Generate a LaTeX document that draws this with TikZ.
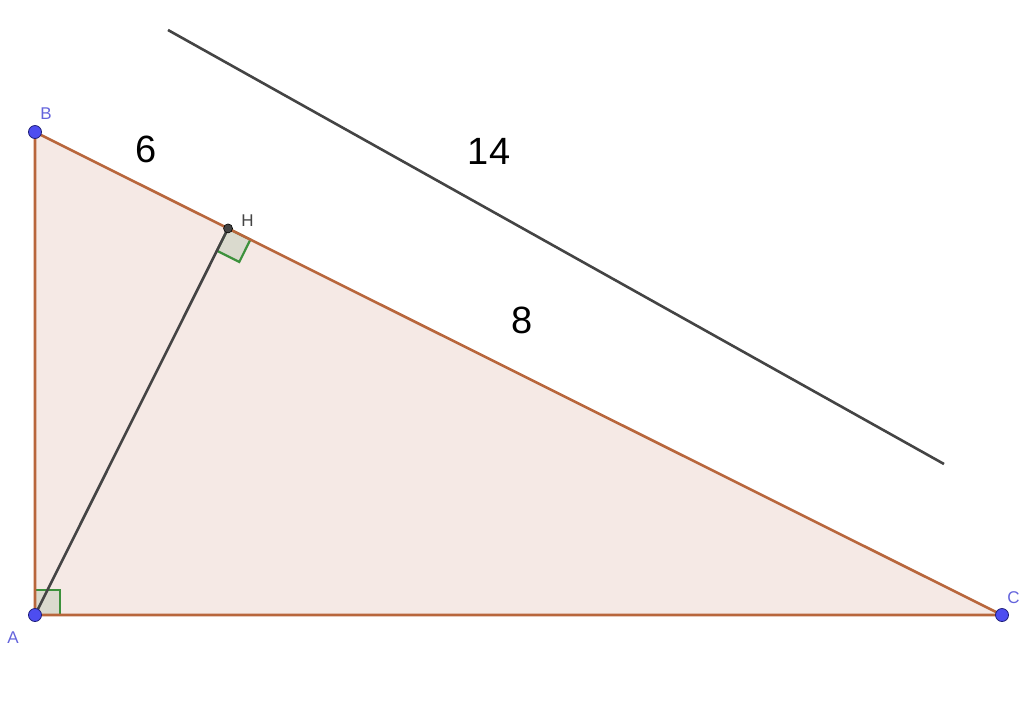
\documentclass[tikz,border=0pt]{standalone}
\usepackage{fontspec}
\setmainfont{Liberation Sans}
\usetikzlibrary{calc}
\definecolor{tri}{RGB}{184,102,60}
\definecolor{trifill}{RGB}{245,233,229}
\definecolor{ptblue}{RGB}{77,77,240}
\definecolor{ptedge}{RGB}{30,30,120}
\definecolor{lbl}{RGB}{100,100,220}
\definecolor{ang}{RGB}{60,145,60}
\definecolor{angfill}{RGB}{218,218,206}
\definecolor{seg}{RGB}{68,68,68}
\tikzset{
  ptstyle/.style={circle,fill=ptblue,draw=ptedge,line width=0.8pt,inner sep=0pt,minimum size=13pt},
  hpt/.style={circle,fill=seg,draw=black,line width=0.6pt,inner sep=0pt,minimum size=9pt},
  ptlabel/.style={text=lbl,font=\fontsize{17}{17}\selectfont,inner sep=0pt},
  hlabel/.style={text=seg,font=\fontsize{17}{17}\selectfont,inner sep=0pt},
  numlabel/.style={text=black,font=\fontsize{38}{38}\selectfont,inner sep=0pt},
  rightang/.style={draw=ang,fill=angfill,line width=2.2pt,line join=miter}
}
\begin{document}
\begin{tikzpicture}[x=1pt,y=-1pt]
\useasboundingbox (0,0) rectangle (1024,716);
\coordinate (A) at (35,615);
\coordinate (B) at (35,132);
\coordinate (C) at (1002,615);
\coordinate (H) at ($(B)!(A)!(C)$);
\coordinate (L1) at (168,30);
\coordinate (L2) at (944,464);
% triangle
\fill[trifill] (A) -- (B) -- (C) -- cycle;
% right angle marks
\draw[rightang] (A) rectangle ++(25,-25);
\draw[rightang] (H) -- ($(H)!25pt!(C)$) -- ($(H)!25pt!(C)!25pt!90:(H)$) -- ($(H)!25pt!(A)$) -- cycle;
% sides
\draw[tri,line width=2.6pt] (A) -- (B) -- (C) -- cycle;
% altitude
\draw[seg,line width=2.6pt] (A) -- (H);
% parallel segment
\draw[seg,line width=2.6pt] (L1) -- (L2);
% points
\node[ptstyle] (pA) at (A) {};
\node[ptstyle] (pB) at (B) {};
\node[ptstyle] (pC) at (C) {};
\node[hpt] (pH) at (H) {};
% labels
\node[ptlabel] (lB) at (46,114) {B};
\node[ptlabel] (lA) at (13,638) {A};
\node[ptlabel] (lC) at (1013.5,598) {C};
\node[hlabel] (lH) at (247.5,221) {H};
\node[numlabel] (n6) at (146,149) {6};
\node[numlabel] (n14) at (489,151) {14};
\node[numlabel] (n8) at (522.5,320.5) {8};
\end{tikzpicture}
\end{document}
